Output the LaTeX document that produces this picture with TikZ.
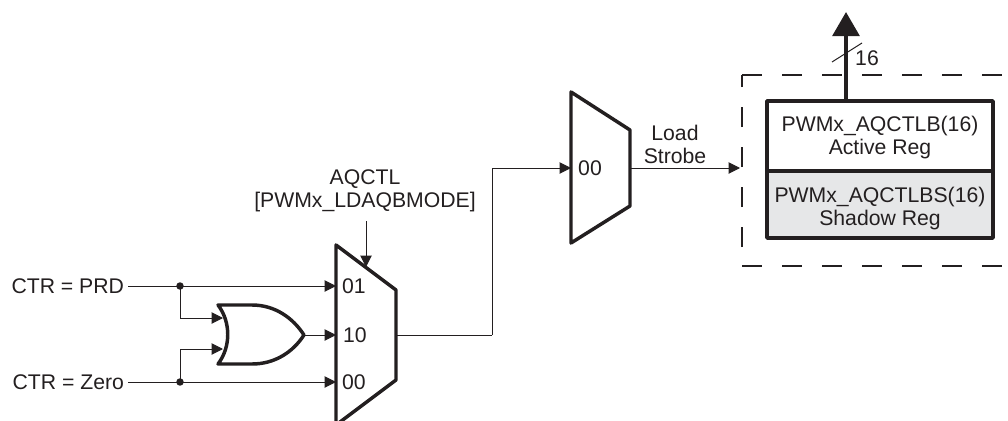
\documentclass[tikz,border=0pt]{standalone}
\usepackage{fontspec}
\setmainfont{Liberation Sans}
\usetikzlibrary{arrows.meta}
\definecolor{inkdark}{HTML}{231F20}
\definecolor{shadowgray}{HTML}{E6E7E8}
\tikzset{
    wire/.style={draw=inkdark,line width=0.75pt,-{Triangle[length=8.5pt,width=8.5pt]}},
    plainwire/.style={draw=inkdark,line width=0.75pt},
    heavy/.style={draw=inkdark,line width=2.6pt,line join=round},
    fence/.style={draw=inkdark,line width=1.7pt,dash pattern=on 15pt off 15pt},
    label/.style={inner sep=0pt,outer sep=0pt,text=inkdark,align=center,font=\fontsize{15.9}{17.25}\selectfont},
    regbox/.style={heavy,inner sep=0pt,outer sep=0pt,minimum width=169.5pt},
    junction/.style={circle,fill=inkdark,inner sep=0pt,minimum size=5.6pt}
}
\begin{document}
\begin{tikzpicture}[x=0.75pt,y=-0.75pt]
    \clip (0,0) rectangle (1008,421);
    %%% Points on the multiplexers and the gate
    \coordinate (muxA01) at (336,286);
    \coordinate (muxA10) at (336,335);
    \coordinate (muxA00) at (336,382);
    \coordinate (selStart) at (366,221);
    \coordinate (muxAsel) at (366,267);
    \coordinate (muxAout) at (396,335);
    \coordinate (muxBin) at (571,168);
    \coordinate (muxBout) at (630,168);
    \coordinate (orIn1) at (223,318);
    \coordinate (orIn2) at (223,349);
    \coordinate (orOut) at (304,335);
    \coordinate (bend) at (492,335);
    \coordinate (strobeEnd) at (740,168);
    \coordinate (busEnd) at (846,12);
    \coordinate (slashA) at (832,62);
    \coordinate (slashB) at (862,43);
    %%% Multiplexers
    \path [heavy] (336,245) -- (396,290) -- (396,380) -- (336,425) -- cycle;
    \path [heavy] (571,92) -- (630,130) -- (630,206) -- (571,243) -- cycle;
    %%% OR gate
    \path [heavy] (218,305) -- (252,305) .. controls (275,305) and (293,318) .. (orOut)
        .. controls (293,352) and (275,364) .. (252,364) -- (218,364)
        .. controls (231,347) and (231,322) .. (218,305) -- cycle;
    %%% Dashed region, open on the right
    \draw[fence] (742,75) -- (1003,75);
    \draw[fence] (742,266) -- (1003,266);
    \draw[fence] (742,247) -- (742,75);
    %%% Registers
    \node[regbox,minimum height=52.5pt,anchor=north west] (activeReg) at (767,101) {};
    \node[regbox,fill=shadowgray,minimum height=50.25pt,anchor=north west] (shadowReg) at (activeReg.south west) {};
    \node[label] (activeText) at (880,138) {PWMx\_AQCTLB(16)\\Active Reg};
    \node[label] (shadowText) at (880,208.5) {PWMx\_AQCTLBS(16)\\Shadow Reg};
    %%% Texts
    \node[label,anchor=east] (ctrPrd) at (124,286) {CTR = PRD};
    \node[label,anchor=east] (ctrZero) at (124,382) {CTR = Zero};
    \node[label] (selText) at (365,191) {AQCTL\\{}[PWMx\_LDAQBMODE]};
    \node[label] (strobeText) at (675,144) {Load\\Strobe};
    \node[label] (busText) at (867,58) {16};
    \node[label] (pinA01) at (354,286) {01};
    \node[label] (pinA10) at (355,335) {10};
    \node[label] (pinA00) at (354,382) {00};
    \node[label] (pinB00) at (590,168) {00};
    %%% Junction dots
    \node[junction] (dotPrd) at (180,286) {};
    \node[junction] (dotZero) at (180,382) {};
    %%% Wires
    \draw[wire] ([xshift=3pt]ctrPrd.east) -- (muxA01);
    \draw[wire] ([xshift=3pt]ctrZero.east) -- (muxA00);
    \draw[wire] (dotPrd.center) |- (orIn1);
    \draw[wire] (dotZero.center) |- (orIn2);
    \draw[wire] (orOut) -- (muxA10);
    \draw[wire] (selStart) -- (muxAsel);
    \draw[plainwire] (muxAout) -- (bend);
    \draw[wire] (bend) |- (muxBin);
    \draw[wire] (muxBout) -- (strobeEnd);
    %%% Bus out of the active register
    \draw[draw=inkdark,line width=2.9pt,-{Triangle[length=18pt,width=20pt]}] (activeReg.north -| busEnd) -- (busEnd);
    \draw[plainwire] (slashA) -- (slashB);
\end{tikzpicture}
\end{document}
